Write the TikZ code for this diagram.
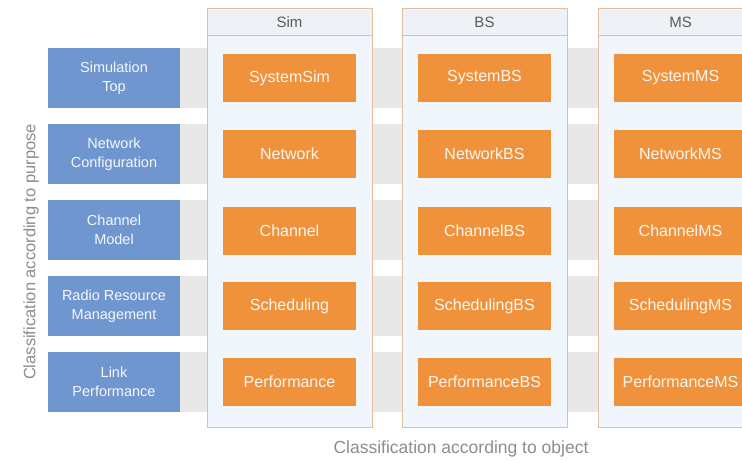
\documentclass[tikz,border=0pt]{standalone}
\usepackage{fontspec}
\setmainfont{Liberation Sans}
\definecolor{purposeblue}{RGB}{112,150,208}
\definecolor{objorange}{RGB}{240,146,60}
\definecolor{bandgray}{RGB}{232,232,232}
\definecolor{colfill}{RGB}{241,246,252}
\definecolor{headfill}{RGB}{238,241,246}
\definecolor{colborder}{RGB}{228,190,160}
\definecolor{headtext}{RGB}{90,90,90}
\definecolor{axistext}{RGB}{140,140,140}
\tikzset{
  purposebox/.style={fill=purposeblue, text=white!93!purposeblue, align=center,
    minimum width=132pt, minimum height=60pt, inner sep=0pt,
    font=\fontsize{14.5}{19}\selectfont},
  objbox/.style={fill=objorange, text=white!92!objorange, align=center,
    minimum width=133pt, minimum height=48pt, inner sep=0pt,
    font=\fontsize{16}{19}\selectfont},
  colframe/.style={draw=colborder, line width=1pt, fill=colfill},
  colhead/.style={draw=colborder, line width=1pt, fill=headfill},
  headlabel/.style={text=headtext, font=\fontsize{15}{18}\selectfont},
  axislabel/.style={text=axistext, font=\fontsize{16.5}{20}\selectfont},
}
\begin{document}
\begin{tikzpicture}[x=1pt,y=-1pt]
\useasboundingbox (0,0) rectangle (742,461);
\clip (0,0) rectangle (742,461);

% grey bands behind each purpose row
\foreach \yc in {78,154,230,306,382}
  \fill[bandgray] (48,\yc-30) rectangle (742,\yc+30);

% object columns with header
\foreach \L/\name/\lab in {207/colsim/Sim,402/colbs/BS,598/colms/MS} {
  \draw[colframe] (\L,8) rectangle (\L+165,427);
  \draw[colhead] (\L,8) rectangle (\L+165,35);
  \node[headlabel] (\name) at (\L+82.5,22) {\lab};
}

% purpose boxes
\node[purposebox] (p1) at (114,78)  {Simulation\\Top};
\node[purposebox] (p2) at (114,154) {Network\\Configuration};
\node[purposebox] (p3) at (114,230) {Channel\\Model};
\node[purposebox] (p4) at (114,306) {Radio Resource\\Management};
\node[purposebox] (p5) at (114,382) {Link\\Performance};

% class boxes
\foreach \i/\yc/\base in {1/78/System,2/154/Network,3/231/Channel,4/306/Scheduling,5/381.5/Performance} {
  \node[objbox] (sim\i) at (289.5,\yc) {\ifnum\i=1 SystemSim\else\base\fi};
  \node[objbox] (bs\i)  at (484.5,\yc) {\base BS};
  \node[objbox] (ms\i)  at (680.5,\yc) {\base MS};
}

% axis labels
\node[axislabel, rotate=90] (purpose) at (31,252) {Classification according to purpose};
\node[axislabel, font=\fontsize{17.5}{20}\selectfont] (object) at (461,449) {Classification according to object};
\end{tikzpicture}
\end{document}
